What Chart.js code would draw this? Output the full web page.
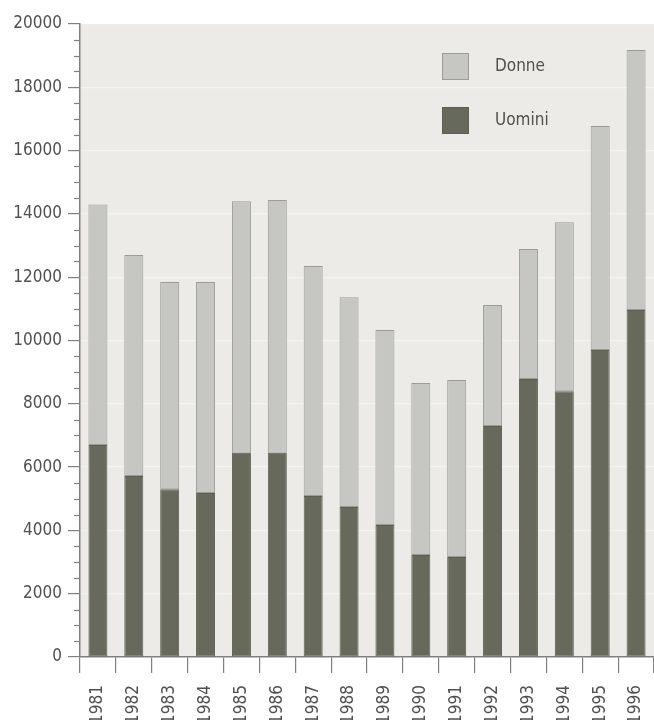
<!DOCTYPE html>
<html>
<head>
<meta charset="utf-8">
<script src="https://cdn.jsdelivr.net/npm/chart.js@4"></script>
<style>
  body { margin: 0; background: #ffffff; overflow: hidden; }
</style>
</head>
<body>
<canvas id="chart" width="654" height="720"></canvas>
<script>
const years = ['1981', '1982', '1983', '1984', '1985', '1986', '1987', '1988',
    '1989', '1990', '1991', '1992', '1993', '1994', '1995', '1996'];
const uomini = [6700, 5720, 5300, 5180, 6450, 6450, 5090, 4740,
    4170, 3220, 3160, 7300, 8780, 8400, 9700, 10960];
const donne = [7600, 6980, 6550, 6670, 7950, 7990, 7260, 6630,
    6160, 5440, 5590, 3820, 4110, 5340, 7080, 8220];

const FONT = "'Liberation Sans Narrow', 'DejaVu Sans Condensed', sans-serif";
const TEXT = '#505050';
const AXIS = '#808080';

// plot background, drawn before grid and bars
const plotBackground = {
    id: 'plotBackground',
    beforeDraw(chart) {
        const { ctx, chartArea } = chart;
        ctx.save();
        ctx.fillStyle = '#ecebe8';
        ctx.fillRect(chartArea.left, chartArea.top, chart.width - chartArea.left, chartArea.bottom - chartArea.top);
        ctx.restore();
    }
};

// short minor ticks every 500 on the y axis
const minorTicks = {
    id: 'minorTicks',
    afterDraw(chart) {
        const { ctx } = chart;
        const y = chart.scales.y;
        ctx.save();
        ctx.strokeStyle = AXIS;
        ctx.lineWidth = 1.2;
        for (let v = 500; v < 20000; v += 500) {
            if (v % 2000 === 0) continue;
            const py = Math.round(y.getPixelForValue(v)) + 0.5;
            ctx.beginPath();
            ctx.moveTo(y.right - 6, py);
            ctx.lineTo(y.right, py);
            ctx.stroke();
        }
        ctx.restore();
    }
};

// legend boxes inside the plot, top right
const innerLegend = {
    id: 'innerLegend',
    afterDraw(chart) {
        const { ctx, chartArea } = chart;
        const items = [chart.data.datasets[1], chart.data.datasets[0]];
        const x = chartArea.left + 362;
        ctx.save();
        ctx.font = '17px ' + FONT;
        ctx.textBaseline = 'middle';
        items.forEach((ds, i) => {
            const top = chartArea.top + 29 + i * 54;
            ctx.fillStyle = ds.backgroundColor;
            ctx.fillRect(x, top, 27, 27);
            ctx.strokeStyle = ds.borderColor;
            ctx.lineWidth = 1;
            ctx.strokeRect(x + 0.5, top + 0.5, 26, 26);
            ctx.fillStyle = TEXT;
            ctx.fillText(ds.label, x + 53, top + 14);
        });
        ctx.restore();
    }
};

new Chart(document.getElementById('chart'), {
    type: 'bar',
    data: {
        labels: years,
        datasets: [
            {
                label: 'Uomini',
                data: uomini,
                backgroundColor: '#66695b',
                borderColor: '#5c5f51',
                borderWidth: 1,
                borderSkipped: false
            },
            {
                label: 'Donne',
                data: donne,
                backgroundColor: '#c6c6c2',
                borderColor: '#9c9c97',
                borderWidth: 1,
                borderSkipped: false
            }
        ]
    },
    options: {
        responsive: false,
        animation: false,
        devicePixelRatio: 1,
        datasets: {
            bar: { barPercentage: 0.53, categoryPercentage: 1 }
        },
        layout: { padding: { top: 24, right: 0, left: 0, bottom: 0 } },
        plugins: {
            legend: { display: false },
            tooltip: { enabled: false }
        },
        scales: {
            x: {
                stacked: true,
                afterFit: (scale) => {
                    scale.height = 63;
                    scale.paddingLeft = 0;
                    scale.paddingRight = 0;
                },
                border: { color: AXIS, width: 1.5 },
                grid: {
                    offset: true,
                    drawOnChartArea: false,
                    tickColor: AXIS,
                    tickLength: 16,
                    lineWidth: 1.2
                },
                ticks: {
                    minRotation: 90,
                    maxRotation: 90,
                    padding: 12,
                    color: TEXT,
                    font: { family: FONT, size: 17 }
                }
            },
            y: {
                stacked: true,
                min: 0,
                max: 20000,
                afterFit: (scale) => { scale.width = 80; },
                border: { color: AXIS, width: 1.5 },
                grid: {
                    color: 'rgba(255,255,255,0.45)',
                    tickColor: AXIS,
                    tickLength: 12,
                    lineWidth: 1.2
                },
                ticks: {
                    stepSize: 2000,
                    padding: 6,
                    color: TEXT,
                    font: { family: FONT, size: 17 },
                    callback: (v) => String(v)
                }
            }
        }
    },
    plugins: [plotBackground, minorTicks, innerLegend]
});
</script>
</body>
</html>
